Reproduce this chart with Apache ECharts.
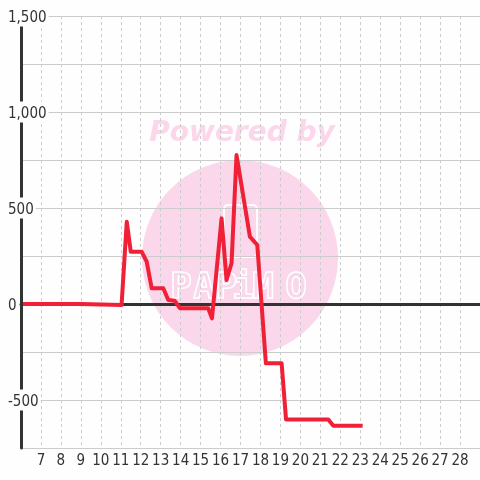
<!DOCTYPE html>
<html>
<head>
<meta charset="utf-8">
<script src="https://cdn.jsdelivr.net/npm/echarts@6/dist/echarts.min.js"></script>
<style>
  html, body { margin: 0; padding: 0; background: #fff; }
  #chart { width: 480px; height: 480px; }
</style>
</head>
<body>
<div id="chart"></div>
<script>
// x positions and values of the line
const xValues = [6, 9, 9.05, 11.04, 11.3, 11.5, 12.05, 12.3, 12.55, 13.13, 13.38, 13.7, 13.97, 15.38, 15.57, 16.05, 16.3, 16.55, 16.8, 17.47, 17.84, 18.27, 19.06, 19.28, 21.4, 21.65, 23.12]
const yValues = [0, 0, -5, -5, 428, 272, 272, 220, 82, 82, 21, 17, -22, -22, -75, 446, 125, 212, 776, 351, 307, -309, -309, -601, -601, -634, -634]
const yLabelValues = [-500, 0, 500, 1000, 1500]

const chart = echarts.init(document.getElementById('chart'))
const font = '"Liberation Sans Narrow", "DejaVu Sans Condensed", Arial, sans-serif'

const watermarkLetters = ['P', 'A', 'P', 'i', 'M', 'O']
const letterX = [181, 204, 226, 243, 263, 296]

chart.setOption({
  backgroundColor: '#fdfefd',
  animation: false,
  textStyle: { fontFamily: font },
  grid: { left: 21, right: 0, top: 16, bottom: 32, containLabel: false },
  graphic: [
    { type: 'circle', z: -1, shape: { cx: 240, cy: 258, r: 98 }, style: { fill: '#fbd7ec' } },
    {
      type: 'text', z: -1, x: 242, y: 134,
      style: { text: 'Powered by', font: 'italic bold 28px "DejaVu Sans", sans-serif', fill: '#fcd6ea', align: 'center', verticalAlign: 'middle' }
    },
    { type: 'rect', z: -1, shape: { x: 224, y: 205, width: 33, height: 52, r: 4 }, style: { fill: 'none', stroke: '#fff', lineWidth: 2 } }
  ].concat(watermarkLetters.map((ch, i) => ({
    type: 'text', z: -1, x: letterX[i], y: 289,
    style: { text: ch, font: 'bold 36px "DejaVu Sans Mono", monospace', fill: 'none', stroke: '#fff', lineWidth: 1.5, align: 'center', verticalAlign: 'middle' }
  }))),
  xAxis: [{
    type: 'value',
    min: 6,
    max: 29,
    interval: 1,
    position: 'bottom',
    axisLine: { show: false, onZero: false },
    axisTick: { show: false },
    axisLabel: { showMinLabel: false, showMaxLabel: false, color: '#333', fontSize: 15, margin: 6 },
    splitLine: { show: true, lineStyle: { color: '#ccc', type: [3, 3], width: 1 } }
  }, {
    // dark zero line
    type: 'value',
    min: 6,
    max: 29,
    axisLine: { show: true, onZero: true, onZeroAxisIndex: 0, lineStyle: { color: '#333', width: 3 } },
    axisTick: { show: false },
    axisLabel: { show: false },
    splitLine: { show: false }
  }],
  yAxis: [{
    type: 'value',
    min: -750,
    max: 1500,
    interval: 250,
    position: 'left',
    axisLine: { show: false, onZero: false },
    axisTick: { show: false },
    axisLabel: { show: false },
    splitLine: { show: true, lineStyle: { color: '#ccc', width: 1 } }
  }, {
    type: 'value',
    min: -750,
    max: 1500,
    interval: 250,
    position: 'left',
    z: 10,
    axisLine: { show: true, onZero: false, lineStyle: { color: '#333', width: 3 } },
    axisTick: { show: false },
    splitLine: { show: false },
    axisLabel: {
      align: 'left',
      margin: 14,
      formatter: v => yLabelValues.indexOf(v) >= 0 ? '{a|' + v.toLocaleString('en-US') + '}' : '',
      rich: {
        a: { color: '#333', fontSize: 15, fontFamily: font, backgroundColor: '#fdfefd', padding: [5, 2, 1, 1] }
      }
    }
  }],
  series: [{
    type: 'line',
    xAxisIndex: 0,
    yAxisIndex: 0,
    data: xValues.map((x, i) => [x, yValues[i]]),
    symbol: 'none',
    lineStyle: { color: '#f02036', width: 4, join: 'round' },
    z: 3
  }]
})
</script>
</body>
</html>
